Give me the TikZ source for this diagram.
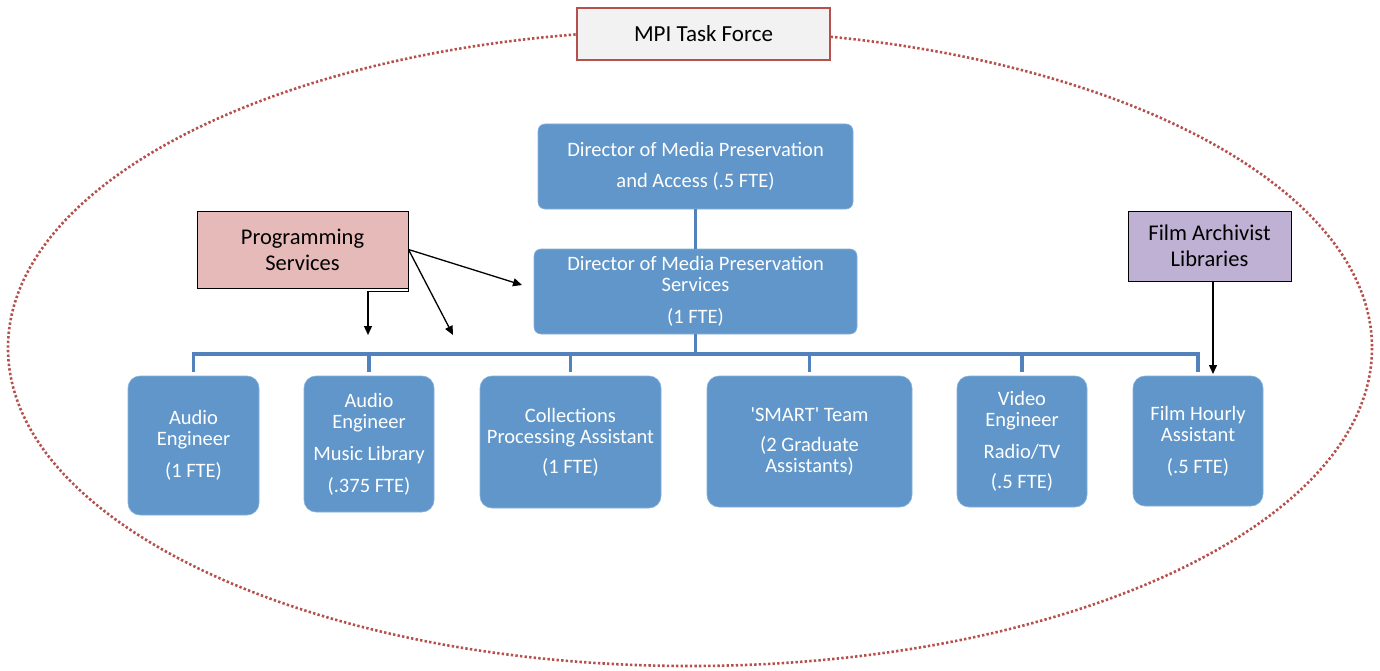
\documentclass[tikz,border=0pt]{standalone}
\usepackage{fontspec}
\setmainfont{Carlito}
\usetikzlibrary{arrows.meta}

\definecolor{boxblue}{HTML}{6096C9}
\definecolor{boxedge}{HTML}{86B0DA}
\definecolor{busblue}{HTML}{5282BC}
\definecolor{taskred}{HTML}{B5504D}
\definecolor{taskfill}{HTML}{F2F2F2}
\definecolor{progpink}{HTML}{E6BAB8}
\definecolor{filmlav}{HTML}{BFB1D4}

\tikzset{
  unit/.style={fill=boxblue, draw=boxedge, line width=0.6pt, text=white,
    rounded corners=7pt, inner sep=0pt, align=center,
    font=\fontsize{20.5}{21}\selectfont},
  staff/.style={unit, rounded corners=12pt},
  bus/.style={draw=busblue, line width=3.5pt},
  tag/.style={draw=black, line width=1pt, inner sep=0pt, align=center,
    font=\fontsize{22.5}{26}\selectfont},
  link/.style={draw=black, line width=1.3pt, -{Triangle[length=9pt,width=8pt]}},
  taskring/.style={draw=taskred, line width=2.6pt, dash pattern=on 2.4pt off 2.2pt},
}

\begin{document}
\begin{tikzpicture}[x=1pt, y=-1pt]
\useasboundingbox (0,0) rectangle (1380,671);

% task force boundary
\draw[taskring] (690,348) ellipse [x radius=682, y radius=318];
\node[draw=taskred, line width=1.2pt, fill=taskfill, minimum width=253pt,
      minimum height=52pt, inner sep=0pt, font=\fontsize{23}{26}\selectfont]
      (mpi) at (703.5,34) {MPI Task Force};

% directors
\node[unit, minimum width=315pt, minimum height=85pt] (dtop) at (695.5,166.5)
  {Director of Media Preservation\\[10pt]and Access (.5 FTE)};
\node[unit, minimum width=323pt, minimum height=85pt] (dsvc) at (695.5,291.5)
  {Director of Media Preservation\\Services\\[11pt](1 FTE)};

% staff
\node[staff, minimum width=131pt, minimum height=139pt] (ae) at (193.5,445.5)
  {Audio\\Engineer\\[11pt](1 FTE)};
\node[staff, minimum width=130pt, minimum height=136pt] (ml) at (369,444)
  {Audio\\Engineer\\[11pt]Music Library\\[11pt](.375 FTE)};
\node[staff, minimum width=181pt, minimum height=132pt] (cp) at (570.5,442)
  {Collections\\Processing Assistant\\[9pt](1 FTE)};
\node[staff, minimum width=205pt, minimum height=131pt] (sm) at (809.5,441.5)
  {\textquotesingle SMART\textquotesingle{} Team\\[9pt](2 Graduate\\Assistants)};
\node[staff, minimum width=130pt, minimum height=131pt] (ve) at (1022,441.5)
  {Video\\Engineer\\[11pt]Radio/TV\\[9pt](.5 FTE)};
\node[staff, minimum width=130pt, minimum height=130pt] (fh) at (1198,441)
  {Film Hourly\\Assistant\\[11pt](.5 FTE)};

% reporting lines
\draw[bus] (dtop.south) -- (dsvc.north);
\coordinate (busy) at (695.5,354);
\draw[bus] (dsvc.south) -- (busy);
\draw[bus, line cap=rect] (ae.north |- busy) -- (fh.north |- busy);
\foreach \n in {ae,ml,cp,sm,ve,fh}
  \draw[bus, shorten >=4pt] (\n.north |- busy) -- (\n.north);

% outside units
\node[tag, fill=progpink, minimum width=211pt, minimum height=77pt] (ps)
  at (302.5,249.5) {Programming\\Services};
\node[tag, fill=filmlav, minimum width=163pt, minimum height=70pt] (fa)
  at (1209.5,246) {Film Archivist\\Libraries};

\coordinate (pa1) at (368,335);
\coordinate (pa2) at (453,335);
\coordinate (pa3) at (522,285);
\coordinate (fa1) at (1213,281);
\coordinate (fa2) at (1213,374);
\draw[link] (ps.south east) -- ++(0,3) -| (pa1);
\draw[link] (ps.east) -- (pa2);
\draw[link] (ps.east) -- (pa3);
\draw[link] (fa1) -- (fa2);
\end{tikzpicture}
\end{document}
